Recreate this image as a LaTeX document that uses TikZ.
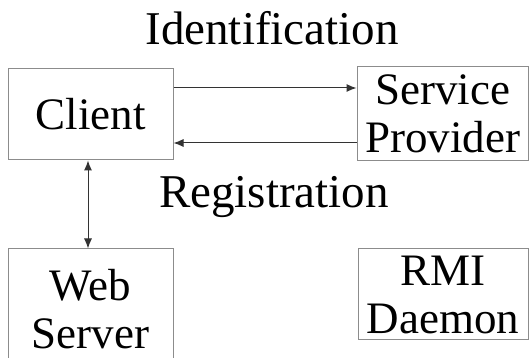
\documentclass[tikz,border=0pt]{standalone}
\usepackage{fontspec}
\setmainfont{Liberation Serif}
\usetikzlibrary{arrows.meta}
\begin{document}
\begin{tikzpicture}[x=1pt,y=1pt,
  box/.style={draw=black!45, line width=1pt, rectangle, inner sep=0pt, align=center,
    font=\fontsize{45}{48}\selectfont},
  lbl/.style={inner sep=0pt, font=\fontsize{47}{50}\selectfont},
  arr/.style={draw=black!80, line width=1pt, -{Latex[length=10pt,width=8pt]}},
  darr/.style={draw=black!80, line width=1pt, {Latex[length=10pt,width=8pt]}-{Latex[length=10pt,width=8pt]}}]
\useasboundingbox (0,0) rectangle (532,358);
\fill[white] (0,0) rectangle (532,358);
\node[box, minimum width=165pt, minimum height=91pt] (client) at (90.5,243.5) {Client};
\node[box, minimum width=171pt, minimum height=94pt] (sp) at (442.5,244) {Service\\Provider};
\node[box, minimum width=165pt, minimum height=121pt] (web) at (90.5,48.5) {Web\\Server};
\node[box, minimum width=170pt, minimum height=91pt] (rmi) at (443,63.5) {RMI\\Daemon};
\node[lbl, anchor=base] (ident) at (272,313) {Identification};
\node[lbl, anchor=base] (reg) at (274,150) {Registration};
\draw[arr] (client.east |- 0,270) -- (sp.west |- 0,270);
\draw[arr] (sp.west |- 0,215) -- (client.east |- 0,215);
\draw[darr] (88,0 |- client.south) -- (88,0 |- web.north);
\end{tikzpicture}
\end{document}
